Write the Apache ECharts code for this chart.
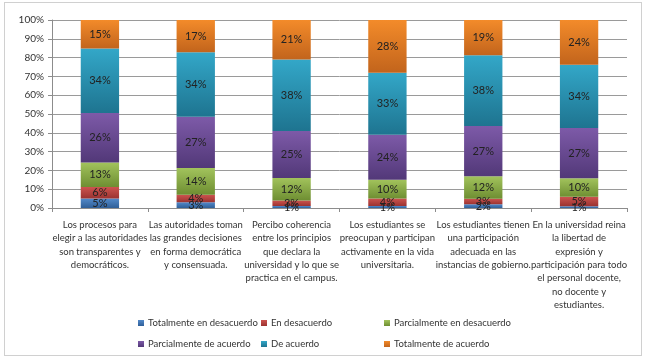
<!DOCTYPE html>
<html><head><meta charset="utf-8">
<script src="https://cdn.jsdelivr.net/npm/echarts@6/dist/echarts.min.js"></script>
<style>
html,body{margin:0;padding:0;background:#fff;}
#wrap{position:relative;width:647px;height:358px;}
#frame{position:absolute;left:4px;top:2px;width:638px;height:354px;border:1px solid #d0d0d0;box-sizing:border-box;}
#c{position:absolute;left:0;top:0;width:647px;height:358px;}
</style></head>
<body><div id="wrap"><div id="frame"></div><div id="c"></div></div>
<script>
const categories = [
  "Los procesos para\nelegir a las autoridades\nson transparentes y\ndemocráticos.",
  "Las autoridades toman\nlas grandes decisiones\nen forma democrática\ny consensuada.",
  "Percibo coherencia\nentre los principios\nque declara la\nuniversidad y lo que se\npractica en el campus.",
  "Los estudiantes se\npreocupan y participan\nactivamente en la vida\nuniversitaria.",
  "Los estudiantes tienen\nuna participación\nadecuada en las\ninstancias de gobierno.",
  "En la universidad reina\nla libertad de\nexpresión y\nparticipación para todo\nel personal docente,\nno docente y\nestudiantes."
];
const seriesNames = ["Totalmente en desacuerdo","En desacuerdo","Parcialmente en desacuerdo","Parcialmente de acuerdo","De acuerdo","Totalmente de acuerdo"];
const totalmenteDesacuerdo = [5,3,1,1,2,1];
const enDesacuerdo = [6,4,3,4,3,5];
const parcialmenteDesacuerdo = [13,14,12,10,12,10];
const parcialmenteAcuerdo = [26,27,25,24,27,27];
const deAcuerdo = [34,34,38,33,38,34];
const totalmenteAcuerdo = [15,17,21,28,19,24];
const yTicks = [0,10,20,30,40,50,60,70,80,90,100];

const allSeries = [totalmenteDesacuerdo,enDesacuerdo,parcialmenteDesacuerdo,parcialmenteAcuerdo,deAcuerdo,totalmenteAcuerdo];
const colors = [
  ['#5289c9','#2f5f98'],
  ['#cc534f','#9b3330'],
  ['#a2c35c','#6e8e32'],
  ['#7d5aa8','#523878'],
  ['#33a7c8','#1e7490'],
  ['#f38b2a','#c2641c']
];
const legendColors = ['#3c6fae','#b3403d','#88a847','#6a4a94','#2a93b3','#e47a24'];
const totals = categories.map((_,i)=>allSeries.reduce((s,a)=>s+a[i],0));
const chart = echarts.init(document.getElementById('c'));
const font = 'Lato, "Liberation Sans", sans-serif';
const legendPos = [[133,313],[256,313],[379,313],[133,334],[256,334],[379,334]];
chart.setOption({
  animation:false,
  textStyle:{fontFamily:font},
  grid:{left:52,right:20,top:20,bottom:150},
  legend: seriesNames.map((n,i)=>({
    data:[n], left:legendPos[i][0], top:legendPos[i][1],
    itemWidth:6,itemHeight:6,itemGap:4,icon:'rect',
    textStyle:{fontSize:9.5,color:'#333',fontFamily:font,padding:[0,0,0,-1]},
    selectedMode:false
  })),
  xAxis:{
    type:'category',data:categories,
    axisLine:{lineStyle:{color:'#8c8c8c'}},
    axisTick:{show:true,length:4,lineStyle:{color:'#8c8c8c'}},
    axisLabel:{interval:0,fontSize:9.5,color:'#333',lineHeight:13.4,margin:10,fontFamily:font}
  },
  yAxis:{
    type:'value',min:0,max:100,interval:10,
    axisLine:{show:true,lineStyle:{color:'#8c8c8c'}},
    axisTick:{show:true,length:4,lineStyle:{color:'#8c8c8c'}},
    splitLine:{lineStyle:{color:'#9a9a9a'}},
    axisLabel:{fontSize:10,color:'#333',margin:8,fontFamily:font,
      formatter:v=>yTicks.includes(v)?v+'%':''}
  },
  series: allSeries.map((arr,si)=>({
    name:seriesNames[si],type:'bar',stack:'t',barWidth:'40%',
    itemStyle:{color:new echarts.graphic.LinearGradient(0,0,0,1,[{offset:0,color:colors[si][0]},{offset:1,color:colors[si][1]}])},
    label:{show:true,position:'inside',fontSize:11,color:'#222',fontFamily:font,
      formatter:p=>arr[p.dataIndex]+'%'},
    data:arr.map((v,i)=>v/totals[i]*100)
  })),
  color:legendColors
});
</script></body></html>
